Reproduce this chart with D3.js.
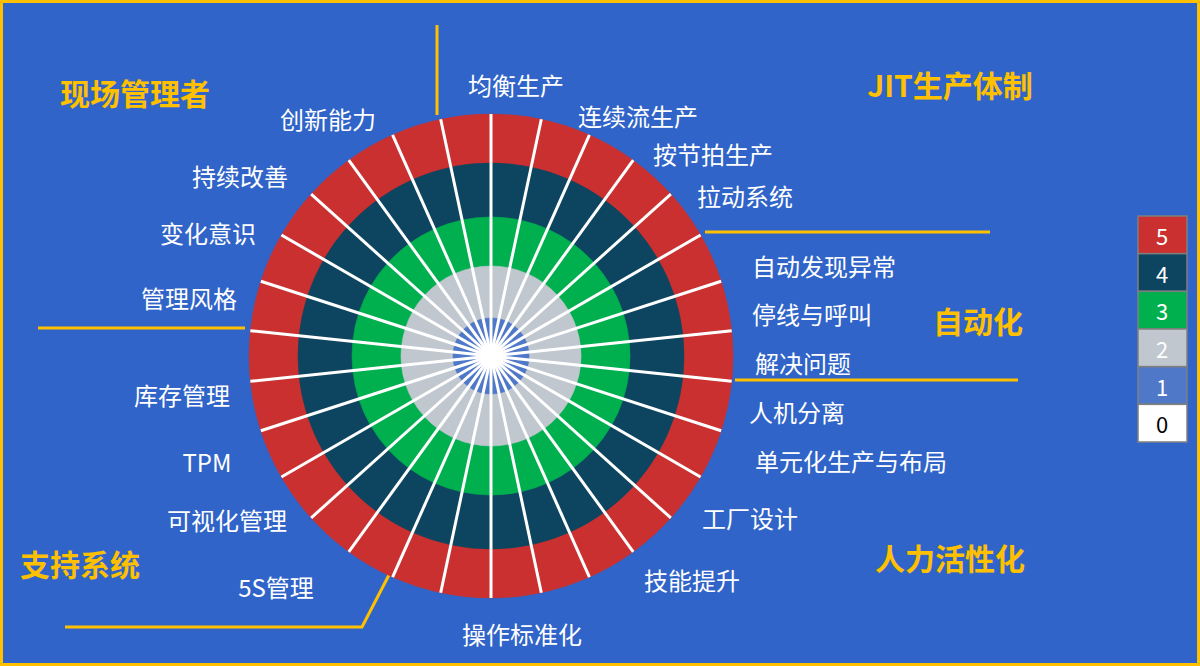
<!DOCTYPE html>
<html><head><meta charset="utf-8">
<script src="https://cdn.jsdelivr.net/npm/d3@7"></script>
<style>body{margin:0;background:#3064C8;}svg{display:block;font-family:"Noto Sans CJK SC","Noto Sans",sans-serif;}</style>
</head><body><svg id="c" width="1200" height="666"></svg>
<script>
const segmentScores = [5,5,5,5,5,5,5,5,5,5,5,5,5,5,5,5,5,5,5,5,5,5,5,5,5,5,5,5,5,5];
const levels = [1,2,3,4,5];
const levelColors = ["#4F78C8","#C0C7CF","#00B04F","#0D4560","#C9302F"];
const legendLevels = [5,4,3,2,1,0];
const legendColors = ["#C9302F","#0D4560","#00B04F","#C0C7CF","#4F78C8","#FFFFFF"];
const itemLabels = ["均衡生产","连续流生产","按节拍生产","拉动系统","自动发现异常","停线与呼叫","解决问题","人机分离","单元化生产与布局","工厂设计","技能提升","操作标准化","5S管理","可视化管理","TPM","库存管理","管理风格","变化意识","持续改善","创新能力"];
const itemPos = [[516,84],[638,115],[713,153],[745,195],[824,265],[812,313],[803,362],[797,411],[851,460],[750,517],[692,579],[522,633],[276,586],[227,519],[207,461],[182,394],[189,297],[208,232],[240,175],[328,118]];
const groupLabels = ["现场管理者","JIT生产体制","自动化","人力活性化","支持系统"];
const groupPos = [[135,92],[950,84],[978,320],[950,557],[80,563]];

const svg = d3.select("#c");
svg.append("rect").attr("x",1.5).attr("y",1.5).attr("width",1197).attr("height",663)
  .attr("fill","#3064C8").attr("stroke","#FFC000").attr("stroke-width",3);

// divider lines
const Y="#FFC000";
[[437,25,437,115],[705,232,990,232],[735,380,1018,380],[38,328,245,328]].forEach(l=>
  svg.append("line").attr("x1",l[0]).attr("y1",l[1]).attr("x2",l[2]).attr("y2",l[3]).attr("stroke",Y).attr("stroke-width",3));
svg.append("polyline").attr("points","65,627 362,627 390,573").attr("fill","none").attr("stroke",Y).attr("stroke-width",3);

const cx=491, cy=356;
const g = svg.append("g").attr("transform",`translate(${cx},${cy})`);
const r = d3.scaleLinear().domain([0,1,2,3,4,5]).range([0,38,90,139,193,242]);
const pie = d3.pie().value(()=>1).sort(null);
const arcs = pie(segmentScores);
levels.slice().reverse().forEach((lv,i)=>{
  g.selectAll(null).data(arcs.filter(a=>a.data>=lv)).enter().append("path")
    .attr("d",d3.arc().innerRadius(0).outerRadius(r(lv)).startAngle(a=>a.startAngle).endAngle(a=>a.endAngle))
    .attr("fill",levelColors[lv-1]).attr("stroke",levelColors[lv-1]).attr("stroke-width",0.6);
});
// spokes
g.selectAll(null).data(arcs).enter().append("line")
  .attr("x1",0).attr("y1",0)
  .attr("x2",a=>r(5)*Math.sin(a.startAngle)).attr("y2",a=>-r(5)*Math.cos(a.startAngle))
  .attr("stroke","#fff").attr("stroke-width",3);
g.append("circle").attr("r",9).attr("fill","#fff");

// labels
svg.selectAll(null).data(itemLabels).enter().append("text")
  .attr("x",(d,i)=>itemPos[i][0]).attr("y",(d,i)=>itemPos[i][1])
  .attr("text-anchor","middle").attr("dominant-baseline","central")
  .attr("fill","#fff").attr("font-size",24).text(d=>d);
svg.selectAll(null).data(groupLabels).enter().append("text")
  .attr("x",(d,i)=>groupPos[i][0]).attr("y",(d,i)=>groupPos[i][1])
  .attr("text-anchor","middle").attr("dominant-baseline","central")
  .attr("fill","#FFC000").attr("font-size",30).attr("font-weight","bold").text(d=>d);

// legend
const ly = d3.scaleBand().domain(legendLevels).range([216,442]);
const lg = svg.append("g");
lg.selectAll(null).data(legendLevels).enter().append("rect")
  .attr("x",1138).attr("y",d=>ly(d)).attr("width",49).attr("height",ly.bandwidth())
  .attr("fill",(d,i)=>legendColors[i]).attr("stroke","#7f7f7f").attr("stroke-width",1.5);
lg.selectAll(null).data(legendLevels).enter().append("text")
  .attr("x",1162).attr("y",d=>ly(d)+ly.bandwidth()/2).attr("text-anchor","middle").attr("dominant-baseline","central")
  .attr("font-size",22).attr("fill",d=>d===0?"#000":"#fff").text(d=>d);
</script></body></html>
